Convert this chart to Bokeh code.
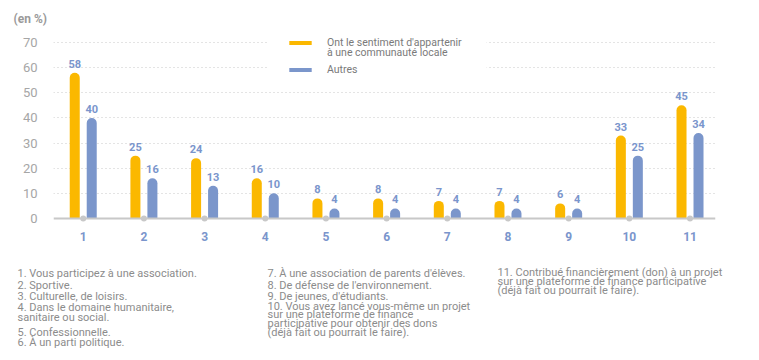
import numpy as np
from bokeh.plotting import figure
from bokeh.layouts import column
from bokeh.models import (Range1d, FixedTicker, Span, Label, Legend, LegendItem,
                          ColumnDataSource, BoxAnnotation)
from bokeh.transform import dodge
from bokeh.embed import file_html
from bokeh.resources import INLINE
from bokeh.core.properties import value

# ---- data ----
categories = ["1", "2", "3", "4", "5", "6", "7", "8", "9", "10", "11"]
local = [58, 25, 24, 16, 8, 8, 7, 7, 6, 33, 45]
others = [40, 16, 13, 10, 4, 4, 4, 4, 4, 25, 34]
series_line1 = "Ont le sentiment d'appartenir"
series_line2 = "à une communauté locale"
series_other = "Autres"
y_ticks = [0, 10, 20, 30, 40, 50, 60, 70]
unit_label = "(en %)"
notes_col1 = ["1. Vous participez à une association.", "2. Sportive.",
              "3. Culturelle, de loisirs.",
              "4. Dans le domaine humanitaire,\nsanitaire ou social.",
              "5. Confessionnelle.", "6. À un parti politique."]
notes_col2 = ["7. À une association de parents d'élèves.",
              "8. De défense de l'environnement.", "9. De jeunes, d'étudiants.",
              "10. Vous avez lancé vous-même un projet\nsur une plateforme de finance\nparticipative pour obtenir des dons\n(déjà fait ou pourrait le faire)."]
notes_col3 = ["11. Contribué financièrement (don) à un projet\nsur une plateforme de finance participative\n(déjà fait ou pourrait le faire)."]

YELLOW = "#FBB800"
BLUE = "#7B96CB"
LABEL_BLUE = "#7A95CC"
GREY_TXT = "#8C8C8C"
FONT = "Roboto"

xs = np.arange(1, len(categories) + 1)
src = ColumnDataSource(dict(x=xs, cat=categories, a=local, b=others,
                            la=[str(v) for v in local], lb=[str(v) for v in others]))

W = 751
H1, H2 = 256, 96
FL, FR, FT, FB = 53, 715, 30, 224   # frame edges (px)
p = figure(width=W, height=H1, output_backend="svg", toolbar_location=None,
           x_range=Range1d(0.51, 11.42), y_range=Range1d(-2.39, 74.78),
           min_border_left=FL, min_border_right=W - FR, min_border_top=FT,
           min_border_bottom=H1 - FB, frame_align=False)
p.outline_line_color = None
p.background_fill_color = "white"
p.border_fill_color = "white"

p.title.text = unit_label
p.title.align = "left"
p.title.offset = 13 - FL
p.title.standoff = 9
p.title.text_font = FONT
p.title.text_font_size = "12px"
p.title.text_font_style = "bold"
p.title.text_color = "#9A9A9A"

# grid
p.xgrid.grid_line_color = None
p.ygrid.ticker = FixedTicker(ticks=y_ticks[1:])
p.ygrid.grid_line_color = "#C8C8C8"
p.ygrid.grid_line_dash = "1 3"
p.ygrid.grid_line_width = 1

# axes
p.yaxis.ticker = FixedTicker(ticks=y_ticks)
p.yaxis.axis_line_color = None
p.yaxis.major_tick_line_color = None
p.yaxis.minor_tick_line_color = None
p.yaxis.major_tick_in = 0
p.yaxis.major_tick_out = 0
p.yaxis.major_label_standoff = 16
p.yaxis.major_label_text_font = FONT
p.yaxis.major_label_text_font_size = "13px"
p.yaxis.major_label_text_color = "#A6A6A6"

p.xaxis.ticker = FixedTicker(ticks=list(xs))
p.xaxis.major_label_overrides = {int(x): c for x, c in zip(xs, categories)}
p.xaxis.axis_line_color = None
p.xaxis.major_tick_line_color = None
p.xaxis.minor_tick_line_color = None
p.xaxis.major_tick_in = 0
p.xaxis.major_tick_out = 0
p.xaxis.major_label_standoff = 7
p.xaxis.major_label_text_font = FONT
p.xaxis.major_label_text_font_style = "bold"
p.xaxis.major_label_text_font_size = "12px"
p.xaxis.major_label_text_color = LABEL_BLUE

# baseline
p.add_layout(Span(location=0, dimension="width", line_color="#C8C8C8", line_width=2))

off = 0.14
bw = 0.165
rb1 = p.vbar(x=dodge("x", -off, range=p.x_range), top="a", width=bw, source=src,
             fill_color=YELLOW, line_color=None, border_radius=(5, 5, 0, 0))
rb2 = p.vbar(x=dodge("x", off, range=p.x_range), top="b", width=bw, source=src,
             fill_color=BLUE, line_color=None, border_radius=(5, 5, 0, 0))

p.scatter(x="x", y=0, source=src, size=6, fill_color="#C8C8C8", line_color=None)

for col, lab in (("a", "la"), ("b", "lb")):
    d = -off if col == "a" else off
    p.text(x=dodge("x", d, range=p.x_range), y=col, text=lab, source=src,
           text_align="center", text_baseline="bottom", y_offset=-5,
           text_font=value(FONT), text_font_style="bold", text_font_size="11px",
           text_color=LABEL_BLUE)

# white area behind the legend (hides the dotted grid there)
p.add_layout(BoxAnnotation(left=268 - FL, right=486 - FL, bottom=FB - 80, top=FB - 30,
                           left_units="screen", right_units="screen",
                           bottom_units="screen", top_units="screen",
                           fill_color="white", fill_alpha=1.0, line_color=None))

# legend: one single-item legend per text line, for exact placement
def add_legend(label, renderers, center_y):
    lg = Legend(items=[LegendItem(label=label, renderers=renderers)],
                location=(286 - FL, FB - (center_y + 6.3)), padding=0, margin=0,
                spacing=0, glyph_width=28, glyph_height=5, label_height=12,
                label_standoff=13, label_text_font=FONT,
                label_text_font_size="10.5px", label_text_color="#7A7A7A",
                border_line_color=None, background_fill_alpha=0.0)
    p.add_layout(lg)

add_legend(series_line1, [rb1], 43)
add_legend(series_line2, [], 52.3)
add_legend(series_other, [rb2], 69.7)

# ---- footnotes panel ----
p2 = figure(width=W, height=H2, output_backend="svg", toolbar_location=None,
            x_range=Range1d(0, 1), y_range=Range1d(0, 1),
            x_axis_type=None, y_axis_type=None, min_border=0, frame_align=False)
p2.outline_line_color = None
p2.grid.visible = False
PAGE_BOTTOM = H1 + H2

def notes(items, x_ref, y_refs, lh):
    for t, yr in zip(items, y_refs):
        p2.add_layout(Label(x=x_ref, y=PAGE_BOTTOM - (yr - 6), x_units="screen",
                            y_units="screen", text=t, text_font=FONT,
                            text_font_size="11px", text_color=GREY_TXT,
                            text_baseline="top", text_line_height=lh))

notes(notes_col1, 17, [272.7, 284, 295, 306, 331.7, 341.7], 0.83)
notes(notes_col2, 267, [272.7, 284, 295, 305], 0.68)
notes(notes_col3, 497, [271], 0.72)

layout = column(p, p2, spacing=0)
open("out.html", "w").write(file_html(layout, INLINE))
